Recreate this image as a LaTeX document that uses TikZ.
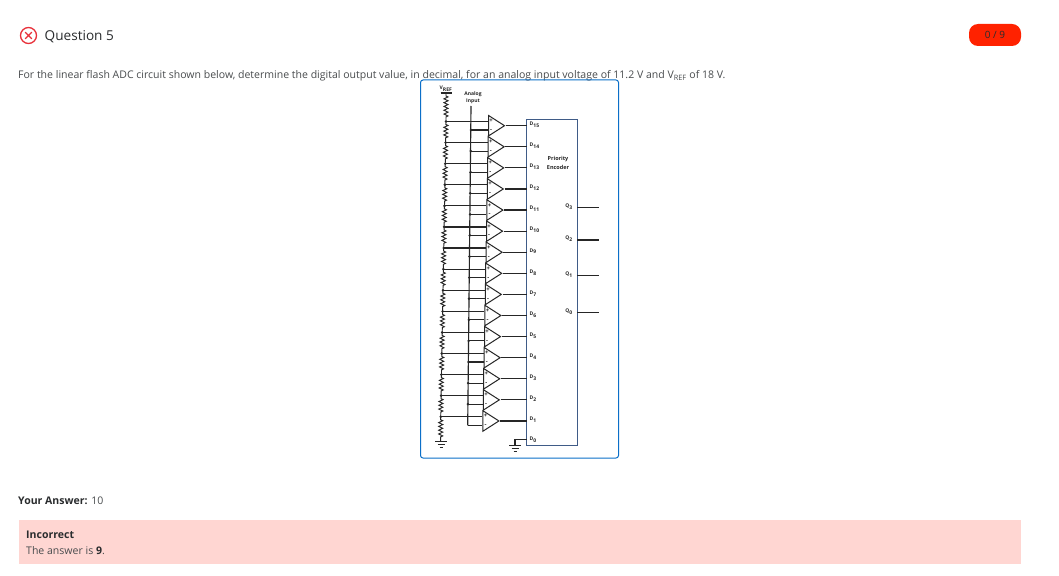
\documentclass[tikz,border=0pt]{standalone}
\usepackage{fontspec}
\setmainfont{Open Sans}
\usetikzlibrary{positioning,shapes.geometric,decorations.pathmorphing}
\definecolor{inktext}{HTML}{494C4E}
\definecolor{inkhead}{HTML}{2A2C2E}
\definecolor{frameblue}{HTML}{0B6FC8}
\definecolor{boxnavy}{HTML}{3F5B87}
\definecolor{wrongred}{HTML}{E8303A}
\definecolor{badgered}{HTML}{FF2200}
\definecolor{wrongpink}{HTML}{FFD6D2}
\tikzset{
    comparator/.style={isosceles triangle, isosceles triangle stretches, draw=wire, line width=1pt, inner sep=0pt,
        minimum width=20.5pt, minimum height=16pt, anchor=lower side},
    wire/.style={draw=wire, line width=1.15pt},
    resistor/.style={draw=wire, line width=0.95pt, decorate, decoration={zigzag, amplitude=2pt, segment length=3.8pt, pre length=3pt, post length=3pt}},
    joint/.style={circle, fill=wire, inner sep=0pt, minimum size=2.8pt},
    tiny/.style={font=\fontsize{5}{5.4}\selectfont\bfseries, text=wire, inner sep=0pt},
    pinmark/.style={font=\fontsize{6}{6}\selectfont\bfseries, text=wire, inner sep=0pt},
    textline/.style={anchor=base west, inner sep=0pt, text=inktext, font=\fontsize{10.53}{12}\selectfont},
}
\colorlet{wire}{black!85}
\begin{document}
\begin{tikzpicture}[x=1pt,y=-1pt]
    \useasboundingbox (0,0) rectangle (1059,575);
    \fill[white] (0,0) rectangle (1059,575);

    % heading
    \node[circle, draw=wrongred, line width=1.3pt, minimum size=16pt, inner sep=0pt] (wrongicon) at (28.5,35.5) {};
    \draw[wrongred, line width=1.3pt] (wrongicon.center) ++(-3.3,-3.3) -- ++(6.6,6.6) ++(-6.6,0) -- ++(6.6,-6.6);
    \node[textline, text=inkhead, font=\fontsize{13.6}{15}\selectfont] (title) at (44.5,40.7) {Question 5};
    \node[rounded corners=9pt, fill=badgered, minimum width=52pt, minimum height=22pt, inner sep=0pt,
        text=inkhead, font=\fontsize{10}{11}\selectfont] (badge) at (995,35) {0 / 9};
    \node[textline] (prompt) at (18,78.7) {For the linear flash ADC circuit shown below, determine the digital output value, in decimal, for an analog input voltage of 11.2 V and V\textsubscript{REF} of 18 V.};

    % figure frame
    \node[draw=frameblue, line width=1pt, rounded corners=2.5pt, fill=none, minimum width=198pt, minimum height=378pt, inner sep=0pt] (frame) at (519.5,269) {};

    % encoder
    \node[draw=boxnavy, line width=1pt, minimum width=50.5pt, minimum height=325.5pt, inner sep=0pt] (enc) at (552,282.5) {};
    \node[tiny, align=center, font=\fontsize{5.5}{9.5}\selectfont\bfseries] (enctext) at (558,163) {Priority\\Encoder};

    % supply rail
    \coordinate (vref) at (446,93);
    \draw[wire] (440.5,93) -- (451.5,93);
    \node[tiny] (vreflabel) at (446,89) {V\textsubscript{REF}};
    \node[tiny, align=center, font=\fontsize{5}{7}\selectfont\bfseries] (ainlabel) at (473,97.5) {Analog\\Input};
    \coordinate (ain) at (471,106);
    \coordinate (ainend) at (467.7,425.3);
    \draw[wire] (ain) -- (ainend);

    \foreach \i in {0,...,14}{
        \pgfmathtruncatemacro{\n}{15-\i}
        \pgfmathsetmacro{\tipy}{125.7+\i*21.09}
        \node[comparator] (cmp\i) at ({488-\i*5.6/14},\tipy) {};
        \node[pinmark] (plus\i) at ([xshift=3.2pt,yshift=4.8pt]cmp\i.lower side) {+};
        \node[pinmark] (minus\i) at ([xshift=3.2pt,yshift=-4.8pt]cmp\i.lower side) {-};
        \coordinate (tap\i) at ({446-\i*5.3/14},{\tipy-4.2});
        \coordinate (sense\i) at ({471-\i*3.3/14},{\tipy+4.3});
        \coordinate (pinp\i) at ({488-\i*5.6/14},{\tipy-4.2});
        \coordinate (pinm\i) at ({488-\i*5.6/14},{\tipy+4.3});
        \coordinate (din\i) at (526.7,\tipy);
        \draw[wire] (tap\i) -- (pinp\i);
        \draw[wire] (sense\i) -- (pinm\i);
        \draw[wire] (cmp\i.apex) -- (din\i);
        \node[joint] (tapdot\i) at (tap\i) {};
        \ifnum\i<14 \node[joint] (sensedot\i) at (sense\i) {}; \fi
        \node[tiny, anchor=west] (dlabel\i) at (529.5,{\tipy-1}) {D\textsubscript{\n}};
    }

    % ladder
    \draw[resistor] (vref) -- (tap0);
    \foreach \i [remember=\i as \last (initially 0)] in {1,...,14}{
        \draw[resistor] (tap\last) -- (tap\i);
    }
    \coordinate (gnda) at (440.7,441.7);
    \draw[resistor] (tap14) -- (gnda);
    \draw[wire] (435,441.7) -- (447,441.7) (437.5,444.6) -- (444.5,444.6) (439.5,447.5) -- (442.5,447.5);

    % grounded input
    \node[tiny, anchor=west] (dlabel15) at (529.5,439.5) {D\textsubscript{0}};
    \coordinate (din15) at (526.7,439.3);
    \coordinate (gndb) at (515,445.7);
    \draw[wire] (din15) -| (gndb);
    \draw[wire] (509,445.7) -- (521,445.7) (511.5,448.6) -- (518.5,448.6) (513.5,451.5) -- (516.5,451.5);

    % outputs
    \foreach \q/\y in {3/207.7,2/240,1/275.5,0/312.5}{
        \coordinate (qin\q) at (577,\y);
        \coordinate (qout\q) at (599,\y);
        \draw[wire] (qin\q) -- (qout\q);
        \node[tiny, anchor=east] (qlabel\q) at (573,{\y-1}) {Q\textsubscript{\q}};
    }

    % answer
    \node[textline, text=inkhead] (youranswer) at (18,504.2) {\textbf{Your Answer:} \textcolor{inktext}{10}};
    \node[fill=wrongpink, minimum width=1002.5pt, minimum height=44pt, inner sep=0pt] (feedback) at (519.75,542) {};
    \node[textline, text=inkhead] (incorrect) at (26,538.2) {\textbf{Incorrect}};
    \node[textline] (theanswer) at (26,554.2) {The answer is \textcolor{inkhead}{\textbf{9}}.};
\end{tikzpicture}
\end{document}
